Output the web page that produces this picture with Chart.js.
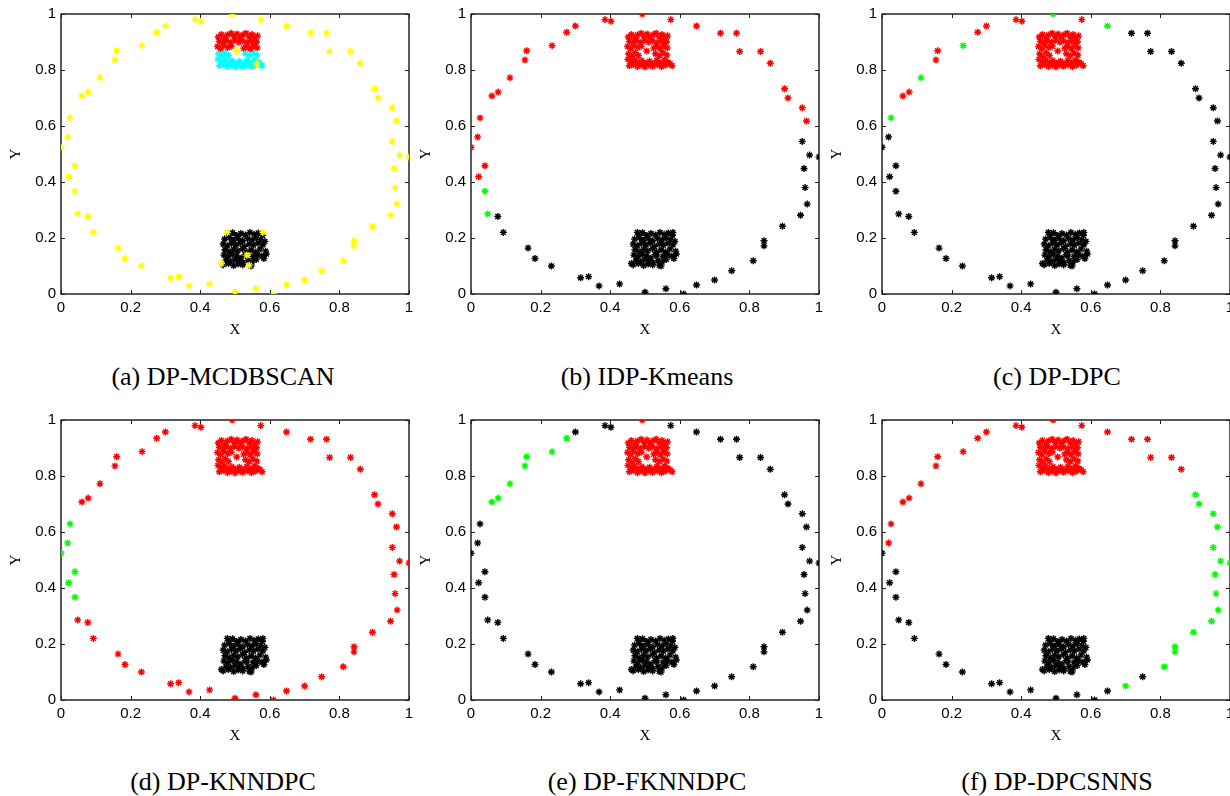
<!DOCTYPE html>
<html>
<head>
<meta charset="utf-8">
<script src="https://cdn.jsdelivr.net/npm/chart.js@4.4.0/dist/chart.umd.min.js"></script>
<style>
  body { margin:0; width:1230px; height:796px; overflow:hidden; background:#fff; position:relative; }
  .panel { position:absolute; width:420px; height:345px; }
  .cap { position:absolute; width:340px; text-align:center; font-family:"Liberation Serif","Times New Roman",serif; font-size:26px; line-height:30px; color:#000; }
</style>
</head>
<body>
<div class="panel" style="left:0px;top:0px"><canvas id="pa"></canvas></div>
<div class="panel" style="left:410px;top:0px"><canvas id="pb"></canvas></div>
<div class="panel" style="left:821px;top:0px"><canvas id="pc"></canvas></div>
<div class="panel" style="left:0px;top:406px"><canvas id="pd"></canvas></div>
<div class="panel" style="left:410px;top:406px"><canvas id="pe"></canvas></div>
<div class="panel" style="left:821px;top:406px"><canvas id="pf"></canvas></div>

<div class="cap" style="left:53px;top:362px">(a) DP-MCDBSCAN</div>
<div class="cap" style="left:477px;top:362px">(b) IDP-Kmeans</div>
<div class="cap" style="left:887px;top:362px">(c) DP-DPC</div>
<div class="cap" style="left:53px;top:767px">(d) DP-KNNDPC</div>
<div class="cap" style="left:477px;top:767px">(e) DP-FKNNDPC</div>
<div class="cap" style="left:887px;top:767px">(f) DP-DPCSNNS</div>

<script>
// points on the outer ring, counter-clockwise from the top
var ringPts = [
  [0.492,1.000],[0.385,0.980],[0.402,0.974],[0.300,0.957],[0.275,0.935],
  [0.233,0.887],[0.160,0.869],[0.155,0.836],[0.112,0.772],[0.078,0.721],
  [0.060,0.707],[0.026,0.629],[0.019,0.561],[0.000,0.524],[0.040,0.458],
  [0.022,0.419],[0.040,0.367],[0.048,0.286],[0.077,0.277],[0.093,0.220],
  [0.164,0.164],[0.184,0.127],[0.231,0.100],[0.315,0.058],[0.338,0.062],
  [0.368,0.029],[0.427,0.036],[0.500,0.006],[0.560,0.019],[0.611,0.000],
  [0.648,0.032],[0.700,0.050],[0.749,0.083],[0.811,0.119],[0.842,0.190],
  [0.842,0.172],[0.895,0.242],[0.947,0.281],[0.966,0.321],[0.960,0.380],
  [0.957,0.448],[1.000,0.489],[0.973,0.496],[0.952,0.545],[0.964,0.618],
  [0.952,0.665],[0.911,0.700],[0.901,0.733],[0.860,0.824],[0.832,0.866],
  [0.772,0.866],[0.763,0.931],[0.717,0.931],[0.648,0.957],[0.574,0.980]
];

// upper square cluster, top half and bottom half
var topUpper = [
  [0.452,0.918],[0.461,0.927],[0.470,0.912],[0.478,0.925],[0.489,0.931],[0.497,0.921],[0.506,0.929],
  [0.514,0.917],[0.523,0.926],[0.532,0.931],[0.541,0.919],[0.549,0.927],[0.557,0.914],[0.565,0.922],
  [0.455,0.902],[0.466,0.896],[0.476,0.905],[0.487,0.898],[0.499,0.906],[0.511,0.899],[0.522,0.904],
  [0.534,0.897],[0.545,0.905],[0.553,0.893],[0.562,0.901],[0.450,0.884],[0.459,0.876],[0.468,0.888],
  [0.479,0.880],[0.534,0.884],[0.544,0.876],[0.556,0.887],[0.564,0.879],[0.489,0.885],[0.525,0.878]
];
var topLower = [
  [0.453,0.858],[0.462,0.849],[0.472,0.862],[0.481,0.852],[0.530,0.858],[0.541,0.851],[0.552,0.861],
  [0.563,0.853],[0.451,0.838],[0.460,0.829],[0.470,0.836],[0.480,0.826],[0.491,0.833],[0.502,0.824],
  [0.513,0.831],[0.523,0.822],[0.534,0.834],[0.545,0.826],[0.556,0.836],[0.566,0.828],[0.455,0.815],
  [0.466,0.820],[0.478,0.812],[0.489,0.817],[0.500,0.811],[0.511,0.818],[0.522,0.813],[0.535,0.819],
  [0.547,0.812],[0.558,0.817],[0.572,0.822],[0.578,0.815]
];
var topNoise = [[0.505,0.868],[0.562,0.822]];

// lower square cluster
var bottomPts = [
  [0.481,0.214],[0.493,0.219],[0.505,0.209],[0.517,0.216],[0.530,0.211],[0.543,0.220],[0.555,0.213],
  [0.567,0.218],[0.579,0.210],[0.470,0.196],[0.484,0.201],[0.496,0.192],[0.509,0.199],[0.522,0.190],
  [0.536,0.198],[0.549,0.193],[0.561,0.202],[0.574,0.195],[0.586,0.188],[0.466,0.178],[0.478,0.172],
  [0.490,0.181],[0.503,0.175],[0.515,0.183],[0.528,0.170],[0.541,0.179],[0.553,0.174],[0.566,0.182],
  [0.580,0.176],[0.471,0.158],[0.483,0.151],[0.496,0.160],[0.508,0.154],[0.521,0.162],[0.533,0.149],
  [0.546,0.157],[0.559,0.150],[0.572,0.161],[0.588,0.153],[0.468,0.139],[0.480,0.133],[0.492,0.142],
  [0.505,0.136],[0.517,0.128],[0.529,0.140],[0.552,0.134],[0.564,0.141],[0.577,0.136],[0.590,0.143],
  [0.474,0.121],[0.487,0.115],[0.499,0.124],[0.511,0.118],[0.524,0.112],[0.537,0.120],[0.549,0.114],
  [0.561,0.123],[0.583,0.127],[0.466,0.104],[0.481,0.109],[0.496,0.102],[0.509,0.107],[0.522,0.104],
  [0.546,0.100]
];
var bottomNoise = [[0.478,0.220],[0.534,0.139],[0.541,0.103],[0.461,0.109],[0.580,0.220]];

// cluster label of every ring point, one letter per point (y r g k c)
var ringA = 'y'.repeat(55);
var ringB = 'r'.repeat(16) + 'gg' + 'k'.repeat(26) + 'r'.repeat(11);
var ringC = 'grrrrgrrgrrg' + 'k'.repeat(41) + 'gr';
var ringD = 'r'.repeat(11) + 'g'.repeat(6) + 'r'.repeat(38);
var ringE = 'r' + 'kkk' + 'g'.repeat(7) + 'k'.repeat(44);
var ringF = 'r'.repeat(13) + 'k'.repeat(18) + 'g' + 'k' + 'g'.repeat(15) + 'r'.repeat(7);

var colors = { r:'#ff0000', g:'#00ff00', k:'#000000', y:'#ffff00', c:'#00ffff' };
var drawOrder = ['y','g','r','c','k'];

var panels = [
  { id:'pa', ring:ringA, upper:'r', lower:'c', topNoise:'y', bottom:'k', bottomNoise:'y' },
  { id:'pb', ring:ringB, upper:'r', lower:'r', topNoise:'r', bottom:'k', bottomNoise:'k' },
  { id:'pc', ring:ringC, upper:'r', lower:'r', topNoise:'r', bottom:'k', bottomNoise:'k' },
  { id:'pd', ring:ringD, upper:'r', lower:'r', topNoise:'r', bottom:'k', bottomNoise:'k' },
  { id:'pe', ring:ringE, upper:'r', lower:'r', topNoise:'r', bottom:'k', bottomNoise:'k' },
  { id:'pf', ring:ringF, upper:'r', lower:'r', topNoise:'r', bottom:'k', bottomNoise:'k' }
];

// box around the plot with short inward ticks on every side
var framePlugin = {
  id: 'frame',
  beforeDatasetsDraw: function(chart) {
    var a = chart.chartArea, ctx = chart.ctx, xs = chart.scales.x, ys = chart.scales.y;
    ctx.save();
    ctx.strokeStyle = '#000';
    ctx.lineWidth = 1.3;
    ctx.strokeRect(a.left, a.top, a.right - a.left, a.bottom - a.top);
    ctx.lineWidth = 1;
    ctx.strokeStyle = '#222';
    ctx.beginPath();
    xs.ticks.forEach(function(t) {
      var px = Math.round(xs.getPixelForValue(t.value)) + 0.5;
      ctx.moveTo(px, a.bottom); ctx.lineTo(px, a.bottom - 4);
      ctx.moveTo(px, a.top); ctx.lineTo(px, a.top + 4);
    });
    ys.ticks.forEach(function(t) {
      var py = Math.round(ys.getPixelForValue(t.value)) + 0.5;
      ctx.moveTo(a.left, py); ctx.lineTo(a.left + 4, py);
      ctx.moveTo(a.right, py); ctx.lineTo(a.right - 4, py);
    });
    ctx.stroke();
    ctx.restore();
  }
};

function toXY(list) {
  return list.map(function(p) { return { x:p[0], y:p[1] }; });
}

function buildDatasets(p) {
  var groups = {};
  function add(key, pts) {
    if (!groups[key]) groups[key] = [];
    groups[key] = groups[key].concat(toXY(pts));
  }
  add(p.bottom, bottomPts);
  add(p.upper, topUpper);
  add(p.lower, topLower);
  ringPts.forEach(function(pt, i) { add(p.ring.charAt(i), [pt]); });
  add(p.topNoise, topNoise);
  add(p.bottomNoise, bottomNoise);
  var sets = [];
  drawOrder.forEach(function(key, i) {
    if (!groups[key]) return;
    sets.push({
      data: groups[key],
      order: i,
      pointStyle: 'star',
      pointRadius: 3.5,
      pointBorderWidth: 1.4,
      borderColor: colors[key],
      backgroundColor: colors[key]
    });
  });
  return sets;
}

var tickFont = { family:'"Liberation Sans", Arial, sans-serif', size:15 };
var titleFont = { family:'"Liberation Serif", "Times New Roman", serif', size:15 };

panels.forEach(function(p) {
  new Chart(p.id, {
    type: 'scatter',
    data: { datasets: buildDatasets(p) },
    options: {
      responsive: true,
      maintainAspectRatio: false,
      animation: false,
      events: [],
      layout: { padding: { top:14, right:11, bottom:0, left:0 } },
      plugins: { legend: { display:false }, tooltip: { enabled:false } },
      scales: {
        x: {
          type: 'linear', min: 0, max: 1,
          grid: { display:false, drawTicks:false },
          border: { display:false },
          ticks: { stepSize:0.2, color:'#000', padding:5, font:tickFont, maxRotation:0,
                   callback: function(v) { return String(+v.toFixed(1)); } },
          title: { display:true, text:'X', color:'#000', font:titleFont, padding:{ top:0, bottom:6 } },
          afterFit: function(s) { s.height = 51; }
        },
        y: {
          type: 'linear', min: 0, max: 1,
          grid: { display:false, drawTicks:false },
          border: { display:false },
          ticks: { stepSize:0.2, color:'#000', padding:5, font:tickFont,
                   callback: function(v) { return String(+v.toFixed(1)); } },
          title: { display:true, text:'Y', color:'#000', font:titleFont, padding:{ top:7, bottom:0 } },
          afterFit: function(s) { s.width = 61; }
        }
      }
    },
    plugins: [framePlugin]
  });
});
</script>
</body>
</html>
